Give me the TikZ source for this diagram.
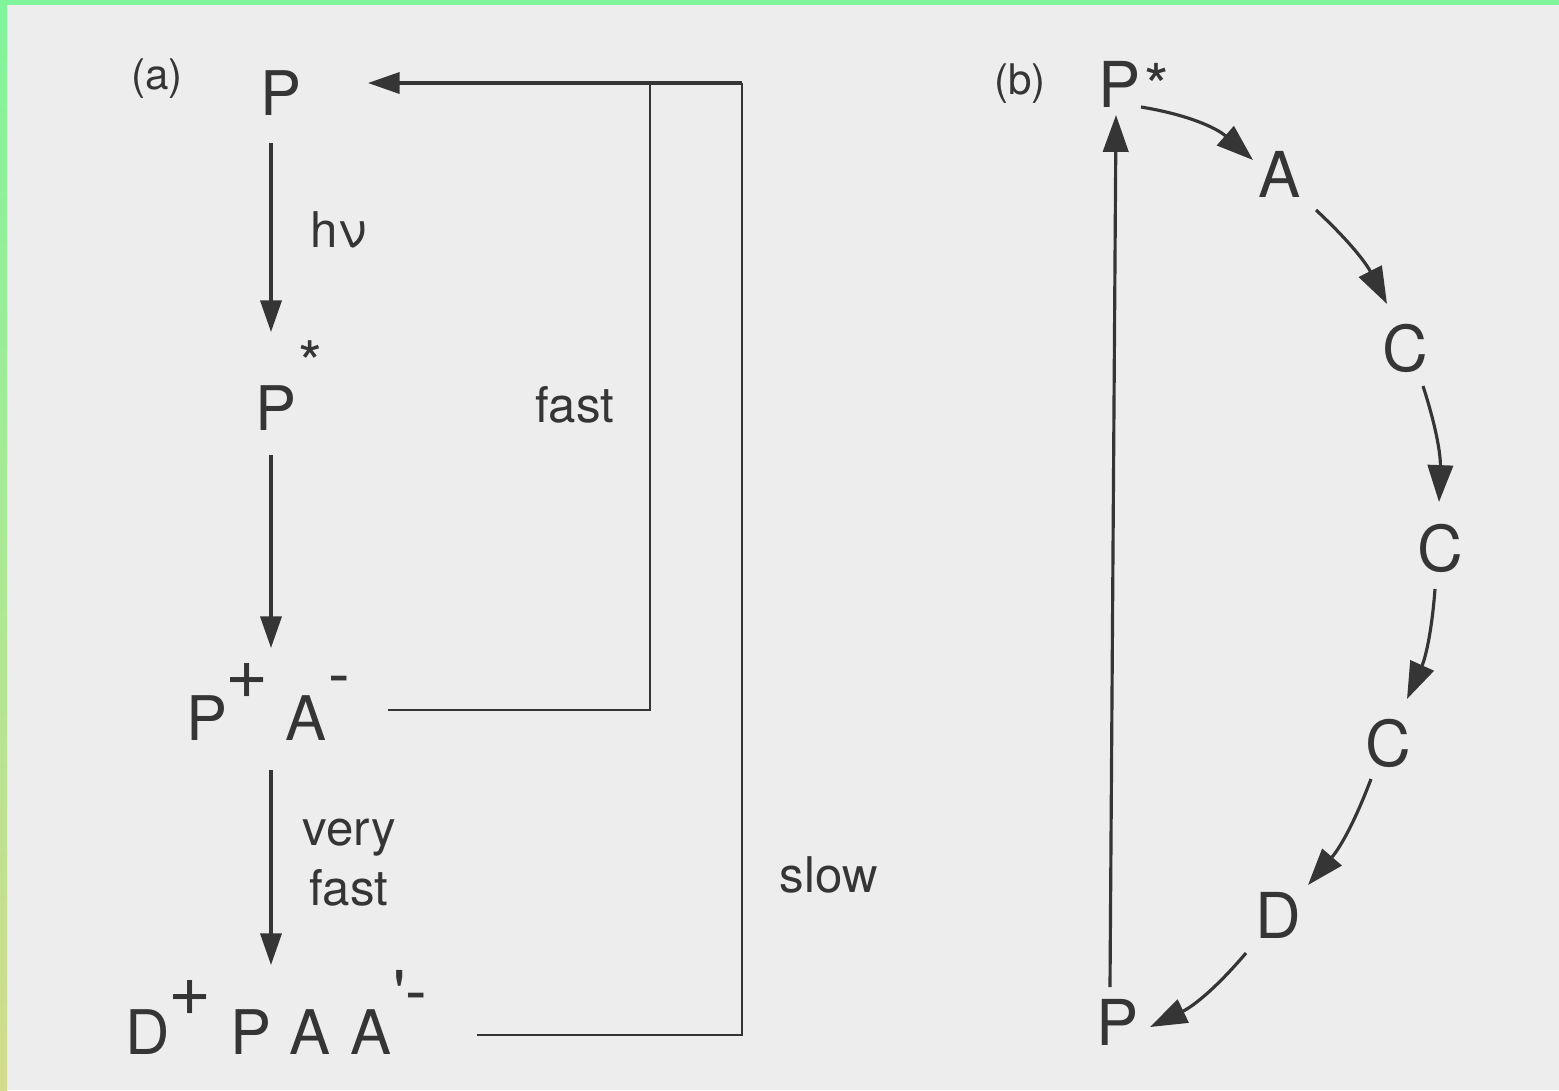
\documentclass[tikz,border=0pt]{standalone}
\usepackage{fontspec}
\setmainfont{TeX Gyre Heros}
\usetikzlibrary{arrows.meta,calc}
\definecolor{ink}{HTML}{353535}
\definecolor{paper}{HTML}{EDEDED}
\definecolor{edgeg}{HTML}{80F59C}
\definecolor{edgey}{HTML}{D3DC8C}
\begin{document}
\begin{tikzpicture}[x=0.2845pt, y=-0.2845pt,
  bigL/.style={font=\fontsize{17.5}{20}\selectfont, text=ink, inner sep=0pt, anchor=base},
  bigR/.style={font=\fontsize{18}{20}\selectfont, text=ink, inner sep=0pt, anchor=base},
  supS/.style={font=\fontsize{18.5}{20}\selectfont, text=ink, inner sep=0pt, anchor=base},
  plusS/.style={font=\fontsize{21}{22}\selectfont, text=ink, inner sep=0pt, anchor=base},
  lblS/.style={font=\fontsize{14}{16}\selectfont, text=ink, inner sep=0pt, anchor=base west},
  tagS/.style={font=\fontsize{12}{14}\selectfont, text=ink, inner sep=0pt},
  arr/.style={draw=ink, line width=0.95pt, -{Triangle[length=9pt,width=6pt]}},
  arrb/.style={draw=ink, line width=0.9pt, -{Triangle[length=10.5pt,width=7.2pt]}},
  fb/.style={draw=ink, line width=0.75pt}]
\useasboundingbox (0,0) rectangle (1559,1090);
\fill[paper] (0,0) rectangle (1559,1090);
\fill[edgeg] (0,0) rectangle (1559,5);
\shade[top color=edgeg, bottom color=edgey] (0,0) rectangle (7,1090);

% ---------- panel (a) ----------
\node[tagS] (ta) at (157,79) {(a)};
\node[bigL] (p1) at (281,115) {P};
\node[bigL] (st1) at (310,385) {*};
\node[bigL] (p2) at (276,430) {P};
\node[bigL] (pp) at (207,740) {P};
\node[plusS] (ppl) at (247,698) {+};
\node[bigL] (pa) at (306,740) {A};
\node[supS] (pam) at (339,696) {-};
\node[bigL] (bd) at (148,1054) {D};
\node[plusS] (bdp) at (190,1015) {+};
\node[bigL] (bp) at (251,1054) {P};
\node[bigL] (ba1) at (310,1054) {A};
\node[bigL] (ba2) at (371,1054) {A};
\node[supS] (baq) at (400,1016) {\textquotesingle};
\node[supS] (bam) at (416,1013) {-};

\node[lblS] (hv) at (310,247) {hν};
\node[lblS] (f1) at (535,422) {fast};
\node[lblS] (vy) at (302,845) {very};
\node[lblS] (f2) at (309,905) {fast};
\node[lblS] (sl) at (779,892) {slow};

\draw[arr] ($(p1.base)+(-10,28)$) -- ($(p2.base)+(-5,-98)$);
\draw[arr] ($(p2.base)+(-5,25)$) -- ($(pp.base)+(64,-92)$);
\draw[arr] ($(pp.base)+(64,30)$) -- ($(bp.base)+(20,-89)$);

\coordinate (tl) at ($(p1.base)+(87,-32)$);
\draw[fb] ($(pa.base)+(82,-30)$) -| ($(tl)+(282,0)$);
\draw[fb] ($(ba2.base)+(106,-19)$) -| ($(tl)+(374,0)$);
\draw[arr] ($(tl)+(374,0)$) -- (tl);

% ---------- panel (b) ----------
\node[tagS] (tb) at (1020,84) {(b)};
\node[bigR] (pst) at (1120,107) {P};
\node[bigR] (pstar) at (1157,109) {*};
\node[bigR] (ra) at (1280,197) {A};
\node[bigR] (c1) at (1405,371) {C};
\node[bigR] (c2) at (1440,571) {C};
\node[bigR] (c3) at (1388,766) {C};
\node[bigR] (rd) at (1278,938) {D};
\node[bigR] (pb) at (1118,1045) {P};

\draw[arrb] ($(pst.base)+(21,0)$) to[bend left=16] ($(ra.base)+(-27,-37)$);
\draw[arrb] ($(ra.base)+(36,13)$) to[bend left=10] ($(c1.base)+(-18,-67)$);
\draw[arrb] ($(c1.base)+(18,15)$) to[bend left=10] ($(c2.base)+(-1,-69)$);
\draw[arrb] ($(c2.base)+(-5,18)$) to[bend left=10] ($(c3.base)+(19,-67)$);
\draw[arrb] ($(c3.base)+(-17,13)$) to[bend left=10] ($(rd.base)+(30,-53)$);
\draw[arrb] ($(rd.base)+(-32,15)$) to[bend left=12] ($(pb.base)+(32,-18)$);
\draw[arrb] ($(pb.base)+(-8,-58)$) -- ($(pst.base)+(-4,8)$);
\end{tikzpicture}
\end{document}
